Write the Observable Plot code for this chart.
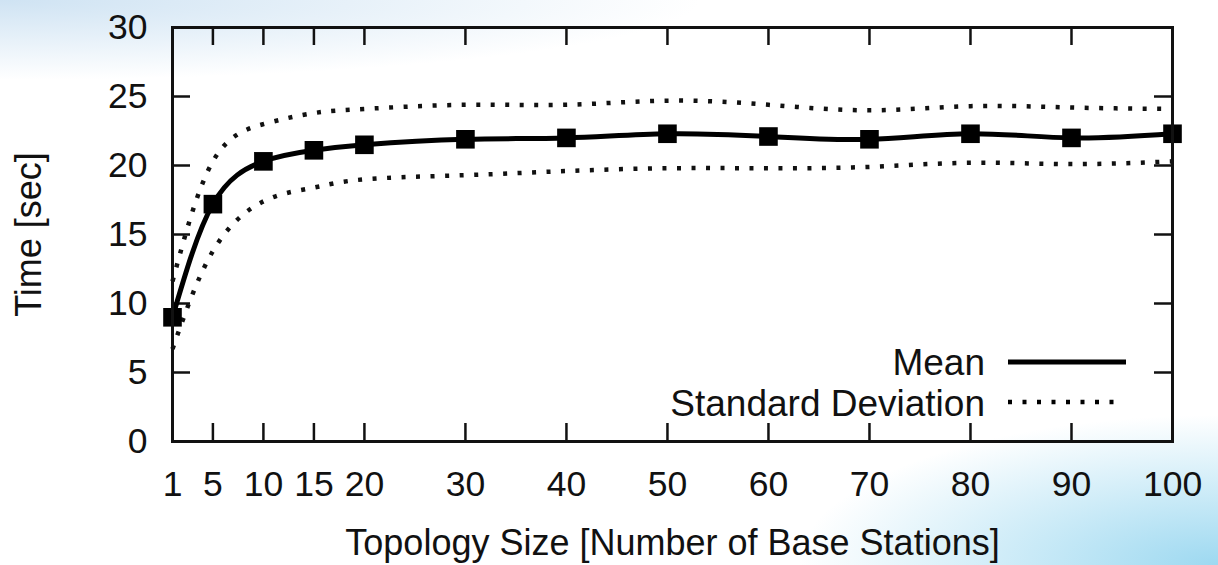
<!DOCTYPE html>
<html>
<head>
<meta charset="utf-8">
<script src="https://cdn.jsdelivr.net/npm/d3@7"></script>
<script src="https://cdn.jsdelivr.net/npm/@observablehq/plot@0.6"></script>
<style>
  html, body { margin: 0; padding: 0; }
  body {
    width: 1218px; height: 565px; overflow: hidden;
    background:
      radial-gradient(ellipse 700px 80px at 0% 0%, rgba(195,220,240,0.8), rgba(195,220,240,0) 100%),
      radial-gradient(ellipse 420px 150px at 100% 100%, rgba(140,210,238,0.85), rgba(140,210,238,0) 100%),
      #ffffff;
    font-family: "Liberation Sans", Arial, sans-serif;
  }
  #wrap { position: relative; width: 1218px; height: 565px; }
  #legend { position: absolute; left: 0; top: 0; pointer-events: none; }
</style>
</head>
<body>
<div id="wrap"></div>
<script>
// ---- data ----
const sizes   = [1, 5, 10, 15, 20, 30, 40, 50, 60, 70, 80, 90, 100];
const meanVal = [9.0, 17.2, 20.3, 21.1, 21.5, 21.9, 22.0, 22.3, 22.1, 21.9, 22.3, 22.0, 22.3];
const upperSd = [11.6, 20.3, 23.0, 23.8, 24.1, 24.4, 24.4, 24.7, 24.4, 24.0, 24.3, 24.2, 24.1];
const lowerSd = [6.7, 13.8, 17.4, 18.4, 19.0, 19.3, 19.6, 19.8, 19.8, 19.9, 20.2, 20.1, 20.3];
const xTicks  = [1, 5, 10, 15, 20, 30, 40, 50, 60, 70, 80, 90, 100];
const yTicks  = [0, 5, 10, 15, 20, 25, 30];
const xLabel  = "Topology Size [Number of Base Stations]";
const yLabel  = "Time [sec]";
const legendLabels = ["Mean", "Standard Deviation"];

const rows = sizes.map((s, i) => ({size: s, mean: meanVal[i], upper: upperSd[i], lower: lowerSd[i]}));

const W = 1218, H = 565;
const mL = 172, mR = 46, mT = 27, mB = 124;
const plotW = W - mL - mR, plotH = H - mT - mB;
const tickLen = 18;
const ink = "#111";

const chart = Plot.plot({
  width: W, height: H,
  marginLeft: mL, marginRight: mR, marginTop: mT, marginBottom: mB,
  style: {background: "transparent", fontFamily: "'Liberation Sans', Arial, sans-serif", color: ink},
  x: {domain: [1, 100]},
  y: {domain: [0, 30]},
  marks: [
    // inward ticks (gnuplot style, mirrored)
    Plot.tickX(xTicks, {x: d => d, insetTop: plotH - tickLen, stroke: ink, strokeWidth: 2.5}),
    Plot.tickX(xTicks, {x: d => d, insetBottom: plotH - tickLen, stroke: ink, strokeWidth: 2.5}),
    Plot.tickY(yTicks, {y: d => d, insetRight: plotW - tickLen, stroke: ink, strokeWidth: 2.5}),
    Plot.tickY(yTicks, {y: d => d, insetLeft: plotW - tickLen, stroke: ink, strokeWidth: 2.5}),
    Plot.axisX(xTicks, {tickSize: 0, tickPadding: 29, fontSize: 35.5, tickFormat: d => String(d),
      label: null}),
    Plot.axisX({label: xLabel, labelAnchor: "center", labelArrow: "none", labelOffset: 113,
      fontSize: 36, ticks: [], tickSize: 0}),
    Plot.axisY(yTicks, {tickSize: 0, tickPadding: 25, fontSize: 35.5, tickFormat: d => String(d),
      label: null}),
    Plot.axisY({label: yLabel, labelAnchor: "center", labelArrow: "none", labelOffset: 157,
      fontSize: 36, ticks: [], tickSize: 0}),
    // standard deviation bounds
    Plot.line(rows, {x: "size", y: "upper", curve: "natural", stroke: ink, strokeWidth: 4.5,
      strokeDasharray: "4 10.5", strokeLinecap: "butt"}),
    Plot.line(rows, {x: "size", y: "lower", curve: "natural", stroke: ink, strokeWidth: 4.5,
      strokeDasharray: "4 10.5", strokeLinecap: "butt"}),
    // mean
    Plot.line(rows, {x: "size", y: "mean", curve: "natural", stroke: "#000", strokeWidth: 5}),
    Plot.dot(rows, {x: "size", y: "mean", symbol: "square", r: 10.5, fill: "#000", stroke: "none"}),
    Plot.frame({stroke: ink, strokeWidth: 3})
  ]
});
document.getElementById("wrap").appendChild(chart);

// legend (overlaid inside the plot frame, bottom right)
const ns = "http://www.w3.org/2000/svg";
const lg = document.createElementNS(ns, "svg");
lg.setAttribute("id", "legend");
lg.setAttribute("width", W);
lg.setAttribute("height", H);
const entries = [
  {label: legendLabels[0], base: 375, lineY: 362, dash: null, width: 5, x2: 1126},
  {label: legendLabels[1], base: 416, lineY: 402, dash: "4 10.5", width: 4.5, x2: 1119}
];
for (const e of entries) {
  const t = document.createElementNS(ns, "text");
  t.setAttribute("x", 985);
  t.setAttribute("y", e.base);
  t.setAttribute("text-anchor", "end");
  t.setAttribute("font-size", 37);
  t.setAttribute("font-family", "'Liberation Sans', Arial, sans-serif");
  t.setAttribute("fill", ink);
  t.textContent = e.label;
  lg.appendChild(t);
  const l = document.createElementNS(ns, "line");
  l.setAttribute("x1", 1008); l.setAttribute("x2", e.x2);
  l.setAttribute("y1", e.lineY); l.setAttribute("y2", e.lineY);
  l.setAttribute("stroke", "#000");
  l.setAttribute("stroke-width", e.width);
  if (e.dash) l.setAttribute("stroke-dasharray", e.dash);
  lg.appendChild(l);
}
document.getElementById("wrap").appendChild(lg);
</script>
</body>
</html>
